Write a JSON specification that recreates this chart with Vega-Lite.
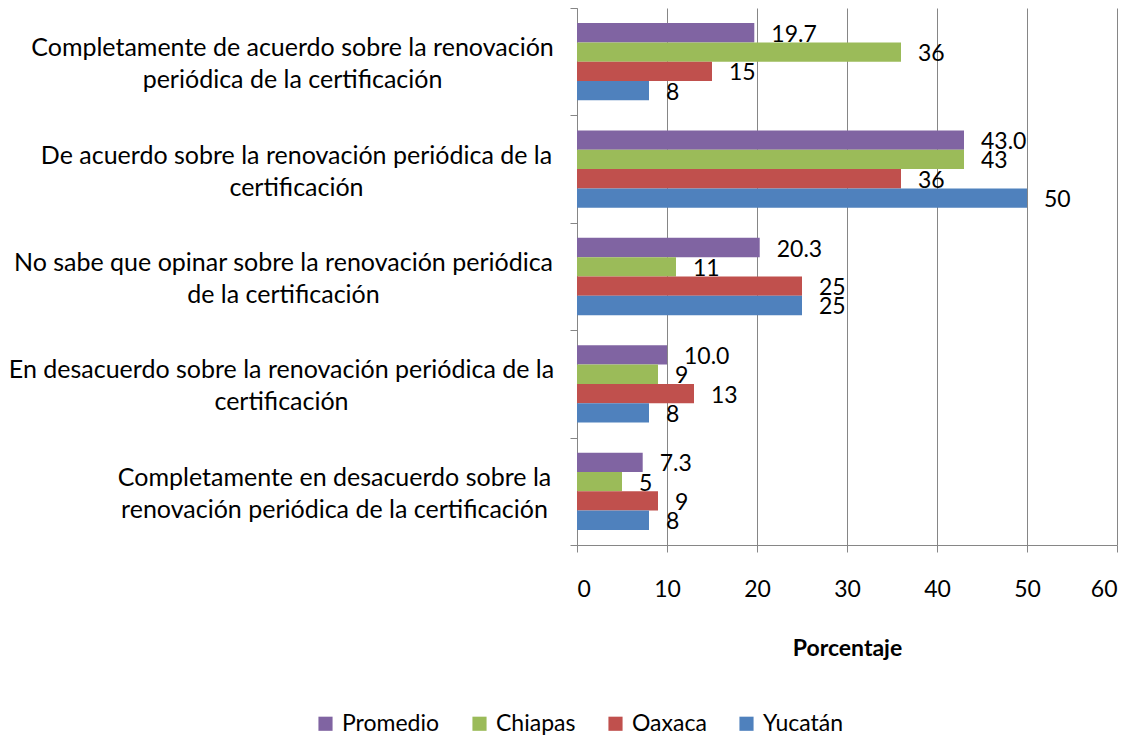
{
  "$schema": "https://vega.github.io/schema/vega-lite/v6.json",
  "autosize": "none",
  "width": 540,
  "height": 537,
  "padding": {"left": 577, "top": 8, "right": 17, "bottom": 191},
  "background": "white",
  "config": {
    "view": {"stroke": null},
    "font": "Lato",
    "axis": {"labelFont": "Lato", "titleFont": "Lato", "labelColor": "#000000", "titleColor": "#000000"}
  },
  "data": {
    "values": [
      {"categoria": "Completamente de acuerdo sobre la renovación|periódica de la certificación", "serie": "Promedio", "valor": 19.7},
      {"categoria": "Completamente de acuerdo sobre la renovación|periódica de la certificación", "serie": "Chiapas", "valor": 36},
      {"categoria": "Completamente de acuerdo sobre la renovación|periódica de la certificación", "serie": "Oaxaca", "valor": 15},
      {"categoria": "Completamente de acuerdo sobre la renovación|periódica de la certificación", "serie": "Yucatán", "valor": 8},
      {"categoria": "De acuerdo sobre la renovación periódica de la|certificación", "serie": "Promedio", "valor": 43.0},
      {"categoria": "De acuerdo sobre la renovación periódica de la|certificación", "serie": "Chiapas", "valor": 43},
      {"categoria": "De acuerdo sobre la renovación periódica de la|certificación", "serie": "Oaxaca", "valor": 36},
      {"categoria": "De acuerdo sobre la renovación periódica de la|certificación", "serie": "Yucatán", "valor": 50},
      {"categoria": "No sabe que opinar sobre la renovación periódica|de la certificación", "serie": "Promedio", "valor": 20.3},
      {"categoria": "No sabe que opinar sobre la renovación periódica|de la certificación", "serie": "Chiapas", "valor": 11},
      {"categoria": "No sabe que opinar sobre la renovación periódica|de la certificación", "serie": "Oaxaca", "valor": 25},
      {"categoria": "No sabe que opinar sobre la renovación periódica|de la certificación", "serie": "Yucatán", "valor": 25},
      {"categoria": "En desacuerdo sobre la renovación periódica de la|certificación", "serie": "Promedio", "valor": 10.0},
      {"categoria": "En desacuerdo sobre la renovación periódica de la|certificación", "serie": "Chiapas", "valor": 9},
      {"categoria": "En desacuerdo sobre la renovación periódica de la|certificación", "serie": "Oaxaca", "valor": 13},
      {"categoria": "En desacuerdo sobre la renovación periódica de la|certificación", "serie": "Yucatán", "valor": 8},
      {"categoria": "Completamente en desacuerdo sobre la|renovación periódica de la certificación", "serie": "Promedio", "valor": 7.3},
      {"categoria": "Completamente en desacuerdo sobre la|renovación periódica de la certificación", "serie": "Chiapas", "valor": 5},
      {"categoria": "Completamente en desacuerdo sobre la|renovación periódica de la certificación", "serie": "Oaxaca", "valor": 9},
      {"categoria": "Completamente en desacuerdo sobre la|renovación periódica de la certificación", "serie": "Yucatán", "valor": 8}
    ]
  },
  "transform": [
    {"calculate": "datum.serie === 'Promedio' ? format(datum.valor, '.1f') : format(datum.valor, 'd')", "as": "etiqueta"}
  ],
  "encoding": {
    "y": {
      "field": "categoria",
      "type": "nominal",
      "sort": null,
      "scale": {"paddingInner": 0, "paddingOuter": 0},
      "axis": {
        "title": null,
        "domainColor": "#868686",
        "tickColor": "#868686",
        "tickBand": "extent",
        "tickSize": 7,
        "labelExpr": "split('' + datum.label, '|')",
        "labelFontSize": 25,
        "labelLineHeight": 32,
        "labelAlign": "center",
        "labelBaseline": "middle",
        "labelOffset": -14,
        "labelLimit": 700,
        "labelOverlap": false,
        "labelPadding": {
          "condition": [
            {"test": "indexof('' + datum.value, 'Completamente de') === 0", "value": 278},
            {"test": "indexof('' + datum.value, 'De acuerdo') === 0", "value": 274},
            {"test": "indexof('' + datum.value, 'No sabe') === 0", "value": 287},
            {"test": "indexof('' + datum.value, 'En desacuerdo') === 0", "value": 289}
          ],
          "value": 236
        }
      }
    },
    "yOffset": {
      "field": "serie",
      "type": "nominal",
      "sort": ["Promedio", "Chiapas", "Oaxaca", "Yucatán"],
      "scale": {"paddingInner": 0, "paddingOuter": 0.78}
    },
    "x": {
      "field": "valor",
      "type": "quantitative",
      "scale": {"domain": [0, 60], "nice": false},
      "axis": {
        "title": "Porcentaje",
        "titleFontSize": 23,
        "titleFontWeight": "bold",
        "titlePadding": 36,
        "values": [0, 10, 20, 30, 40, 50, 60],
        "grid": true,
        "gridColor": "#868686",
        "domainColor": "#868686",
        "tickColor": "#868686",
        "tickSize": 7,
        "labelFontSize": 23,
        "labelPadding": 26
      }
    }
  },
  "layer": [
    {
      "mark": {"type": "bar"},
      "encoding": {
        "color": {
          "field": "serie",
          "type": "nominal",
          "sort": ["Promedio", "Chiapas", "Oaxaca", "Yucatán"],
          "scale": {"domain": ["Promedio", "Chiapas", "Oaxaca", "Yucatán"], "range": ["#8064A2", "#9BBB59", "#C0504D", "#4F81BD"]},
          "legend": {
            "title": null,
            "orient": "none",
            "direction": "horizontal",
            "legendX": -263,
            "legendY": 704,
            "symbolType": "square",
            "symbolSize": 200,
            "symbolStrokeWidth": 0,
            "labelFontSize": 23,
            "labelFont": "Lato",
            "labelColor": "#000000",
            "columnPadding": 28,
            "labelOffset": 5
          }
        }
      }
    },
    {
      "mark": {"type": "text", "align": "left", "baseline": "middle", "dx": 17, "dy": 2, "fontSize": 23, "font": "Lato", "color": "#000000"},
      "encoding": {"text": {"field": "etiqueta"}}
    }
  ]
}
